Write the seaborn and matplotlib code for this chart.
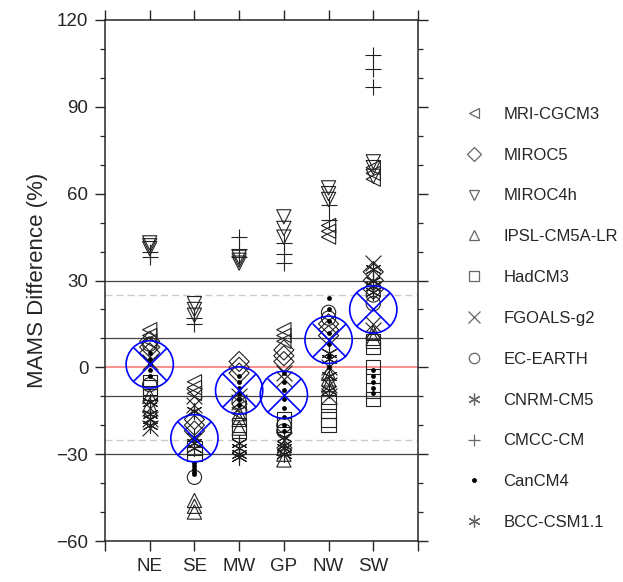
import numpy as np
import pandas as pd
import matplotlib
matplotlib.use("Agg")
import matplotlib.pyplot as plt
from matplotlib.lines import Line2D
from matplotlib.ticker import MultipleLocator
import seaborn as sns

regions = ["NE", "SE", "MW", "GP", "NW", "SW"]

mri_cgcm3 = {"NE": [13, 11, 9], "SE": [-5, -7, -9], "MW": [-14, -16], "GP": [13, 11, 9],
             "NW": [49, 47, 45], "SW": [69, 67, 65]}
miroc5 = {"NE": [9, 7, 5], "SE": [-18, -20, -22], "MW": [2, 0, -2], "GP": [6, 4, 2],
          "NW": [15, 13, 11], "SW": [33, 30, 27]}
miroc4h = {"NE": [43, 42, 41], "SE": [22, 20, 18], "MW": [38, 37, 36], "GP": [52, 48, 45],
           "NW": [62, 60, 58], "SW": [71, 69, 66]}
ipsl_cm5a_lr = {"NE": [-10, -13], "SE": [-46, -48, -50], "MW": [-16, -18, -21],
                "GP": [-28, -30, -32], "NW": [-2, -4, -6], "SW": [12, 10]}
hadcm3 = {"NE": [-5, -7, -9], "SE": [-28, -30], "MW": [-20, -22], "GP": [-18, -20],
          "NW": [-12, -15, -18, -20], "SW": [9, 7, 0, -3, -8, -11]}
fgoals_g2 = {"NE": [2, -14, -18, -21], "SE": [-10, -13], "MW": [-10, -12], "GP": [-2, -4, -25],
             "NW": [0, -6, -10], "SW": [36, 15, 13]}
ec_earth = {"NE": [8, -6], "SE": [-38], "MW": [-12], "GP": [-20, -22],
            "NW": [19, 17], "SW": [25, 22]}
cnrm_cm5 = {"NE": [-12, -16], "SE": [-15, -26], "MW": [-28, -31], "GP": [-24, -28],
            "NW": [3, -8], "SW": [30, 34]}
cmcc_cm = {"NE": [40, 38], "SE": [17, 15], "MW": [45, 41, 38], "GP": [43, 39, 36],
           "NW": [56, 51], "SW": [108, 103, 97]}
cancm4 = {"NE": [5, 3, 1, -1, -3], "SE": [-33, -34, -35, -36, -37],
          "MW": [-3, -5, -7, -9, -11, -13], "GP": [-2, -5, -8, -11, -14, -17, -20, -22],
          "NW": [24, 20, 16, 12, 8, 4, 0], "SW": [-1, -3, -5, -7, -9]}
bcc_csm11 = {"NE": [-18, -20], "SE": [-24, -28], "MW": [-26, -30], "GP": [-27, -30],
             "NW": [5, -3], "SW": [26, 28]}

ensemble_mean = [1, -24.5, -8, -9.5, 9.5, 20]

model_names = ["MRI-CGCM3", "MIROC5", "MIROC4h", "IPSL-CM5A-LR", "HadCM3", "FGOALS-g2",
               "EC-EARTH", "CNRM-CM5", "CMCC-CM", "CanCM4", "BCC-CSM1.1"]
model_data = [mri_cgcm3, miroc5, miroc4h, ipsl_cm5a_lr, hadcm3, fgoals_g2,
              ec_earth, cnrm_cm5, cmcc_cm, cancm4, bcc_csm11]
STAR = (6, 2, 0)
model_markers = ["<", "D", "v", "^", "s", "x", "o", STAR, "+", ".", STAR]
hollow = [True, True, True, True, True, False, True, False, False, False, False]

sns.set_style("ticks")
plt.rcParams["font.family"] = ["Liberation Sans", "DejaVu Sans"]

fig = plt.figure(figsize=(6.23, 5.82), dpi=100)
ax = fig.add_axes([105 / 623, 1 - 541 / 582, (418 - 105) / 623, (541 - 20) / 582])

# reference lines
for yv in [-30, -10, 10, 30]:
    ax.axhline(yv, color="#444444", lw=0.9, zorder=1)
for yv in [-25, 25]:
    ax.axhline(yv, color="#cccccc", lw=1.0, ls=(0, (5, 3)), zorder=1)
ax.axhline(0, color="#ff7070", lw=1.1, zorder=1)

for name, data, mk, hol in zip(model_names, model_data, model_markers, hollow):
    rows = []
    for i, r in enumerate(regions):
        for v in data[r]:
            rows.append({"x": i + 1, "y": v})
    df = pd.DataFrame(rows)
    if hol:
        sns.scatterplot(data=df, x="x", y="y", marker=mk, s=105, facecolor="none",
                        edgecolor="#222222", linewidth=0.8, ax=ax, zorder=3)
    elif mk == ".":
        sns.scatterplot(data=df, x="x", y="y", marker="o", s=12, color="black",
                        edgecolor="black", linewidth=0, ax=ax, zorder=4)
    else:
        sns.scatterplot(data=df, x="x", y="y", marker=mk, s=130, color="#222222",
                        linewidth=0.8, ax=ax, zorder=3)

mdf = pd.DataFrame({"x": np.arange(1, 7), "y": ensemble_mean})
sns.scatterplot(data=mdf, x="x", y="y", marker="o", s=34 ** 2, facecolor="none",
                edgecolor="blue", linewidth=1.2, ax=ax, zorder=5)
sns.scatterplot(data=mdf, x="x", y="y", marker="x", s=24 ** 2, color="blue",
                linewidth=1.2, ax=ax, zorder=5)

ax.set_xlim(0, 7)
ax.set_ylim(-60, 120)
ax.set_xticks(range(8))
ax.set_xticklabels([""] + regions + [""])
ax.set_yticks(range(-60, 121, 30))
ax.yaxis.set_minor_locator(MultipleLocator(10))
ax.tick_params(axis="both", which="major", direction="out", length=7, width=1.0,
               labelsize=13.5, top=True, right=True, pad=5)
ax.tick_params(axis="y", which="minor", direction="out", length=3.5, width=0.9,
               left=True, right=True)
for sp in ax.spines.values():
    sp.set_visible(True)
    sp.set_linewidth(1.1)
ax.set_xlabel("")
ax.set_ylabel("MAMS Difference (%)", fontsize=16, labelpad=6)

handles = []
for name, mk in zip(model_names, model_markers):
    if mk == ".":
        h = Line2D([], [], ls="none", marker="o", markersize=2.5, color="black")
    elif mk in ["x", "+", STAR]:
        h = Line2D([], [], ls="none", marker=mk, markersize=8.5, color="#666666", mew=0.9)
    else:
        h = Line2D([], [], ls="none", marker=mk, markersize=7.5, markerfacecolor="none",
                   markeredgecolor="#666666", mew=0.9)
    handles.append(h)
fig.legend(handles, model_names, loc="upper left", bbox_to_anchor=(455 / 623, 1 - 100 / 582),
           frameon=False, fontsize=12, labelspacing=1.55, handletextpad=1.0,
           handlelength=1.5, borderaxespad=0)

fig.savefig("out.png", dpi=100)
